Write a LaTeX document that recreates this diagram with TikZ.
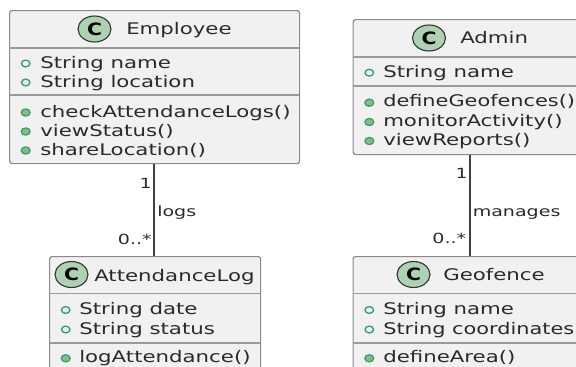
\documentclass[tikz,border=0pt]{standalone}
\usepackage{fontspec}
\usetikzlibrary{shapes.geometric}
\setmainfont{DejaVu Sans}
\definecolor{boxfill}{HTML}{F1F1F1}
\definecolor{boxline}{HTML}{8A8A8A}
\definecolor{sepline}{HTML}{9A9A9A}
\definecolor{circfill}{HTML}{ADD1B2}
\definecolor{markgreen}{HTML}{3A9A6A}
\definecolor{markfill}{HTML}{84BE84}
\definecolor{inktext}{HTML}{2A2A2A}
\newcommand{\fsz}{\fontsize{16}{16}\selectfont}
\tikzset{
  x=1pt,y=-1pt,
  umlbox/.style={draw=boxline,fill=boxfill,line width=1.2pt,rounded corners=2.5pt,inner sep=0pt,anchor=north west},
  member/.style={anchor=base west,inner sep=0pt,text=inktext,font=\fsz,xscale=1.33},
  fitmember/.style={member,xscale=0.98},
  title/.style={anchor=base west,inner sep=0pt,text=inktext,font=\fsz,xscale=1.33},
  lbl/.style={inner sep=0pt,text=inktext,font=\fontsize{14}{14}\selectfont,xscale=1.36},
  sep/.style={draw=sepline,line width=1.2pt},
  conn/.style={draw=black!75,line width=1.3pt},
  badge/.style={ellipse,draw=black!60!gray,fill=circfill,line width=1.1pt,minimum width=33pt,minimum height=26pt,inner sep=0pt},
  badgeletter/.style={inner sep=0pt,font=\bfseries\fontsize{17}{17}\selectfont,text=black,xscale=1.2},
  attrm/.style={ellipse,draw=markgreen,fill=none,line width=1.3pt,minimum width=8.5pt,minimum height=6.8pt,inner sep=0pt},
  methm/.style={ellipse,draw=markgreen,fill=markfill,line width=1.2pt,minimum width=9pt,minimum height=7.2pt,inner sep=0pt}
}
\begin{document}
\begin{tikzpicture}
\useasboundingbox (0,0) rectangle (576,367);
\clip (0,0) rectangle (576,367);
% Employee
\node[umlbox,minimum width=290pt,minimum height=153pt] (emp) at (9,10) {};
\draw[sep] (9,48) -- (299,48);
\draw[sep] (9,95) -- (299,95);
\node[badge] (empc) at (94.5,29) {};
\node[badgeletter] (empl) at (94.5,29) {C};
\node[title] (empt) at (126,34.5) {Employee};
\node[attrm] (e1) at (25.7,63.5) {}; \node[member] (e1t) at (40,68.5) {String name};
\node[attrm] (e2) at (25.7,82.5) {}; \node[member] (e2t) at (40,87.5) {String location};
\node[methm] (e3) at (25.7,112.5) {}; \node[member] (e3t) at (40,117) {checkAttendanceLogs()};
\node[methm] (e4) at (25.7,131.5) {}; \node[member] (e4t) at (40,136) {viewStatus()};
\node[methm] (e5) at (25.7,150.5) {}; \node[member] (e5t) at (40,155) {shareLocation()};
% Admin
\node[umlbox,minimum width=234pt,minimum height=135pt] (adm) at (352.5,19) {};
\draw[sep] (352.5,57) -- (586.5,57);
\draw[sep] (352.5,86) -- (586.5,86);
\node[badge] (admc) at (429,38) {};
\node[badgeletter] (adml) at (429,38) {C};
\node[title] (admt) at (460,43.5) {Admin};
\node[attrm] (a1) at (369.3,72.7) {}; \node[member] (a1t) at (383,77.5) {String name};
\node[methm] (a2) at (369.3,102.7) {}; \node[fitmember] (a2t) at (383,106.5) {defineGeofences()};
\node[methm] (a3) at (369.3,122) {}; \node[member] (a3t) at (383,126) {monitorActivity()};
\node[methm] (a4) at (369.3,141) {}; \node[member] (a4t) at (383,145) {viewReports()};
% AttendanceLog
\node[umlbox,minimum width=211pt,minimum height=140pt] (log) at (49,256) {};
\draw[sep] (49,293.5) -- (260,293.5);
\draw[sep] (49,343) -- (260,343);
\node[badge] (logc) at (71.5,274.5) {};
\node[badgeletter] (logl) at (71.5,274.5) {C};
\node[title] (logt) at (94,281) {AttendanceLog};
\node[attrm] (l1) at (65.7,310) {}; \node[member] (l1t) at (79,314) {String date};
\node[attrm] (l2) at (65.7,329.5) {}; \node[member] (l2t) at (79,334) {String status};
\node[methm] (l3) at (65.7,358.3) {}; \node[member] (l3t) at (79,362) {logAttendance()};
% Geofence
\node[umlbox,minimum width=234pt,minimum height=140pt] (geo) at (352.5,256) {};
\draw[sep] (352.5,293.5) -- (586.5,293.5);
\draw[sep] (352.5,343) -- (586.5,343);
\node[badge] (geoc) at (413.5,274.5) {};
\node[badgeletter] (geol) at (413.5,274.5) {C};
\node[title] (geot) at (443,280) {Geofence};
\node[attrm] (g1) at (369.3,310) {}; \node[member] (g1t) at (383,314) {String name};
\node[attrm] (g2) at (369.3,329.5) {}; \node[fitmember] (g2t) at (383,334) {String coordinates};
\node[methm] (g3) at (369.3,358.3) {}; \node[member] (g3t) at (383,362) {defineArea()};
% connectors
\draw[conn] ([xshift=-.5pt]emp.south) -- ([xshift=-1pt]log.north);
\draw[conn] (adm.south) -- (geo.north);
\node[lbl,anchor=base east] (m1) at (152,188) {1};
\node[lbl,anchor=base east] (m2) at (152,244) {0..*};
\node[lbl,anchor=base west] (m3) at (157,216) {logs};
\node[lbl,anchor=base east] (m4) at (468,178) {1};
\node[lbl,anchor=base east] (m5) at (466.5,243) {0..*};
\node[lbl,anchor=base west] (m6) at (472.5,216) {manages};
\end{tikzpicture}
\end{document}
